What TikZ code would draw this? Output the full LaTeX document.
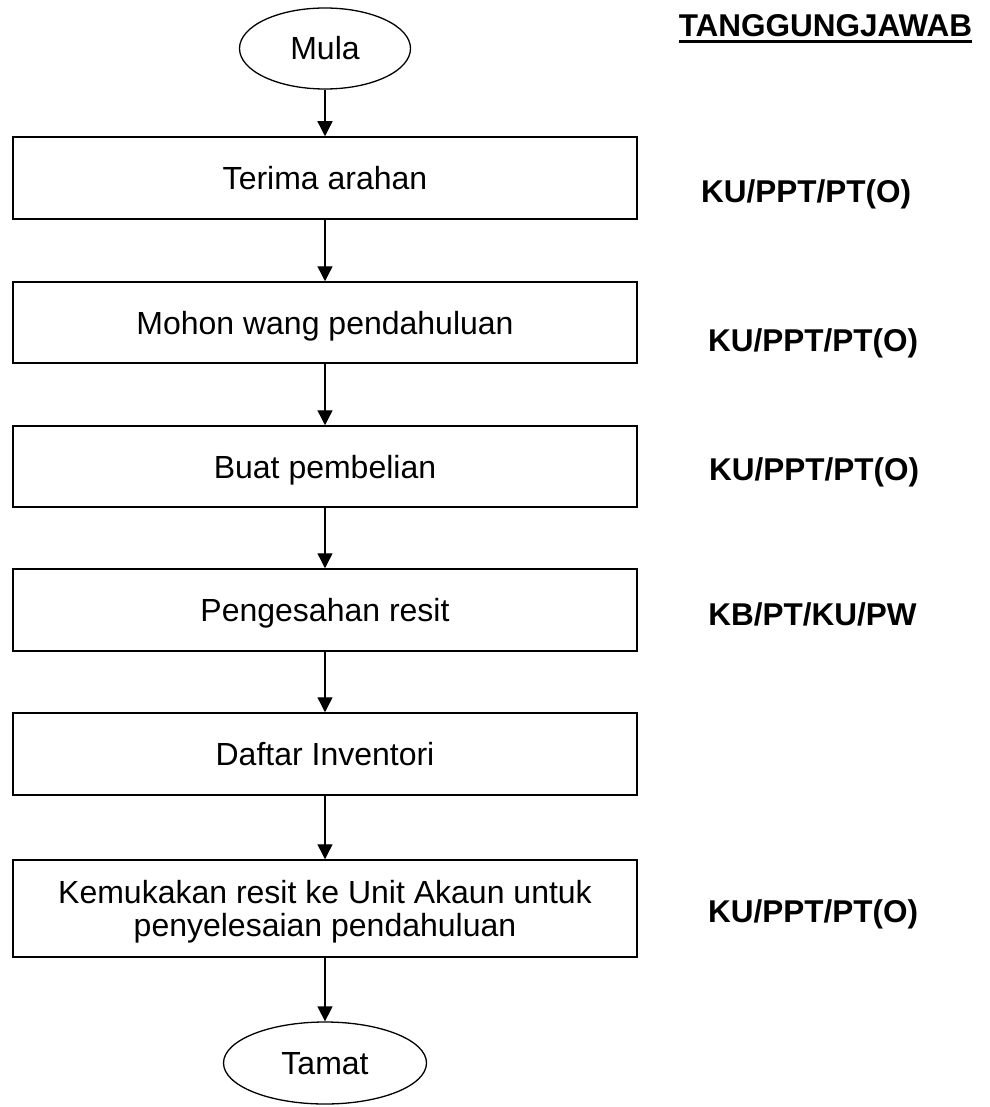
\documentclass[tikz,border=0pt]{standalone}
\usepackage{fontspec}
\setmainfont{Liberation Sans}
\usetikzlibrary{shapes.geometric,arrows.meta}
\begin{document}
\begin{tikzpicture}[x=1pt,y=-1pt,
  every node/.style={font=\fontsize{32}{33}\selectfont},
  stepbox/.style={draw,line width=1.5pt,rectangle,minimum width=624pt,inner sep=0pt,
    text height=23pt,text depth=0pt},
  terminal/.style={draw,line width=1.3pt,ellipse,inner sep=0pt,
    text height=23pt,text depth=0pt},
  duty/.style={anchor=base,font=\bfseries\fontsize{31.5}{33}\selectfont,inner sep=0pt},
  flow/.style={line width=1.4pt,-{Triangle[width=15pt,length=15pt]}}]
  \useasboundingbox (0,0) rectangle (989,1107);

  % start / end terminals
  \node[terminal,minimum width=171pt,minimum height=81pt] (mula) at (325,48.5) {Mula};
  \node[terminal,minimum width=203pt,minimum height=82pt] (tamat) at (325,1063) {Tamat};

  % process steps
  \node[stepbox,minimum height=82pt] (b1) at (325,178) {Terima arahan};
  \node[stepbox,minimum height=81pt] (b2) at (325,322.5) {Mohon wang pendahuluan};
  \node[stepbox,minimum height=81pt] (b3) at (325,466.5) {Buat pembelian};
  \node[stepbox,minimum height=82pt] (b4) at (325,610) {Pengesahan resit};
  \node[stepbox,minimum height=82pt] (b5) at (325,754) {Daftar Inventori};
  % two-line step: the text box sits on its last line, so its height spans both lines
  \node[stepbox,minimum height=97pt,align=center,text height=56pt,text depth=0pt]
    (b6) at (325,908.5) {Kemukakan resit ke Unit Akaun untuk\\penyelesaian pendahuluan};

  % connectors
  \draw[flow] (mula) -- (b1);
  \draw[flow] (b1) -- (b2);
  \draw[flow] (b2) -- (b3);
  \draw[flow] (b3) -- (b4);
  \draw[flow] (b4) -- (b5);
  \draw[flow] (b5) -- (b6);
  \draw[flow] (b6) -- (tamat);

  % responsibility column
  \node[duty] (hdr) at (825.5,37) {TANGGUNGJAWAB};
  \draw[line width=3pt] ([yshift=-5pt]hdr.base west) -- ([yshift=-5pt]hdr.base east);
  \node[duty] (r1) at (806,203) {KU/PPT/PT(O)};
  \node[duty] (r2) at (813,351) {KU/PPT/PT(O)};
  \node[duty] (r3) at (814,480) {KU/PPT/PT(O)};
  \node[duty] (r4) at (812.5,625) {KB/PT/KU/PW};
  \node[duty] (r6) at (813,922) {KU/PPT/PT(O)};
\end{tikzpicture}
\end{document}
